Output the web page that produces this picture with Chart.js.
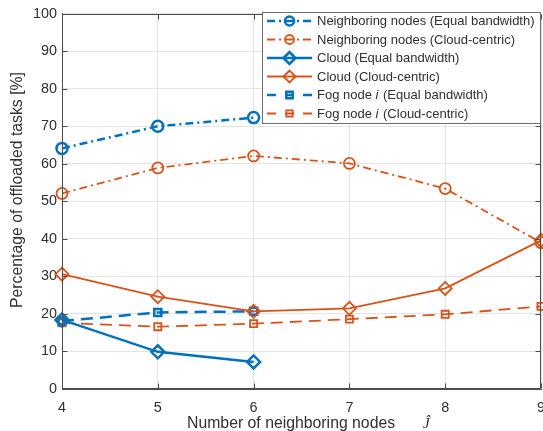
<!DOCTYPE html>
<html>
<head>
<meta charset="utf-8">
<script src="https://cdn.jsdelivr.net/npm/chart.js@4.4.1/dist/chart.umd.min.js"></script>
<style>
  html, body { margin: 0; padding: 0; background: #fff; overflow: hidden; width: 543px; height: 431px; }
  #wrap { position: relative; width: 560px; height: 431px; }
</style>
</head>
<body>
<div id="wrap"><canvas id="c" width="560" height="431"></canvas></div>
<script>
// Number of neighboring nodes (x) and offloading shares in percent
const nodeCounts = [4, 5, 6, 7, 8, 9];
const neighborEqual = [64.1, 70.0, 72.3, null, null, null];
const neighborCloud = [52.1, 58.9, 62.1, 60.1, 53.4, 39.0];
const cloudEqual    = [18.4, 9.9, 7.2, null, null, null];
const cloudCloud    = [30.6, 24.6, 20.7, 21.5, 26.8, 39.6];
const fogEqual      = [18.1, 20.4, 20.7, null, null, null];
const fogCloud      = [17.6, 16.6, 17.4, 18.6, 19.9, 22.0];

const yTickValues = [0, 10, 20, 30, 40, 50, 60, 70, 80, 90, 100];
const seriesNames = [
  'Neighboring nodes (Equal bandwidth)',
  'Neighboring nodes (Cloud-centric)',
  'Cloud (Equal bandwidth)',
  'Cloud (Cloud-centric)',
  'Fog node i (Equal bandwidth)',
  'Fog node i (Cloud-centric)'
];

const BLUE = '#0072BD';
const ORANGE = '#D95319';
const AXIS = '#4d4d4d';
const TEXT = '#303030';
const FONT = '"Liberation Sans", Arial, sans-serif';
const DASHDOT = [8, 4, 2, 4];
const DASHED = [12, 7];

function pts(values) {
  return nodeCounts.map((x, i) => ({ x, y: values[i] })).filter(p => p.y !== null);
}

function series(label, values, color, width, dash, marker, radius) {
  return {
    label,
    data: pts(values),
    borderColor: color,
    borderWidth: width,
    borderDash: dash,
    pointStyle: marker,
    pointRadius: radius,
    pointHoverRadius: radius,
    pointBorderColor: color,
    pointBackgroundColor: 'rgba(0,0,0,0)',
    pointBorderWidth: width,
    tension: 0,
    fill: false,
    clip: false
  };
}

const datasets = [
  series(seriesNames[0], neighborEqual, BLUE, 2.5, DASHDOT, 'circle', 5.5),
  series(seriesNames[1], neighborCloud, ORANGE, 1.8, DASHDOT, 'circle', 5.5),
  series(seriesNames[2], cloudEqual, BLUE, 2.5, [], 'rectRot', 6.5),
  series(seriesNames[3], cloudCloud, ORANGE, 1.8, [], 'rectRot', 6.5),
  series(seriesNames[4], fogEqual, BLUE, 2.5, DASHED, 'rect', 5),
  series(seriesNames[5], fogCloud, ORANGE, 1.8, DASHED, 'rect', 5)
];

// Draws label text, setting the standalone index "i" in italics
function drawLabel(ctx, text, x, y, size) {
  const parts = text.split(/(\bi\b)/);
  for (const part of parts) {
    if (!part) continue;
    const italic = part === 'i';
    ctx.font = (italic ? 'italic ' : '') + size + 'px ' + FONT;
    ctx.fillText(part, x, y);
    x += ctx.measureText(part).width + (italic ? 1 : 0);
  }
}

const framePlugin = {
  id: 'frame',
  afterDraw(chart) {
    const { ctx, chartArea: a, scales: { x, y } } = chart;
    const L = Math.round(a.left) + 0.5, R = Math.round(a.right) - 0.5;
    const T = Math.round(a.top) + 0.5, B = Math.round(a.bottom) - 0.5;
    ctx.save();

    // box and inward tick marks
    ctx.strokeStyle = AXIS;
    ctx.lineWidth = 1;
    ctx.setLineDash([]);
    ctx.beginPath();
    ctx.moveTo(L, T); ctx.lineTo(R, T); ctx.lineTo(R, B); ctx.lineTo(L, B); ctx.closePath();
    const tk = 5;
    nodeCounts.forEach(v => {
      const px = Math.round(x.getPixelForValue(v)) + 0.5;
      ctx.moveTo(px, B); ctx.lineTo(px, B - tk);
      ctx.moveTo(px, T); ctx.lineTo(px, T + tk);
    });
    yTickValues.forEach(v => {
      const py = Math.round(y.getPixelForValue(v)) + 0.5;
      ctx.moveTo(L, py); ctx.lineTo(L + tk, py);
      ctx.moveTo(R, py); ctx.lineTo(R - tk, py);
    });
    ctx.stroke();

    // legend
    const bx = 262.5, by = 12.5, bw = 278, bh = 111;
    ctx.fillStyle = '#fff';
    ctx.fillRect(bx, by, bw, bh);
    ctx.strokeStyle = '#6e6e6e';
    ctx.strokeRect(bx, by, bw, bh);
    chart.data.datasets.forEach((ds, i) => {
      const ry = 21 + i * 18.5;
      const x0 = 267, x1 = 312, xm = 289.5;
      ctx.strokeStyle = ds.borderColor;
      ctx.lineWidth = ds.borderWidth;
      let dash = ds.borderDash;
      if (dash === DASHED) dash = [9, 9];
      ctx.setLineDash(dash);
      ctx.beginPath();
      ctx.moveTo(x0, ry); ctx.lineTo(x1, ry);
      ctx.stroke();
      ctx.setLineDash([]);
      const r = ds.pointStyle === 'rect' ? 4.5 : ds.pointStyle === 'circle' ? 4.5 : 6;
      ctx.fillStyle = 'rgba(0,0,0,0)';
      Chart.helpers.drawPoint(ctx, {
        pointStyle: ds.pointStyle, radius: r, borderWidth: ds.borderWidth, rotation: 0
      }, xm, ry);
      ctx.fillStyle = TEXT;
      ctx.textAlign = 'left';
      ctx.textBaseline = 'middle';
      drawLabel(ctx, ds.label, 317, ry + 0.5, 13);
    });

    // axis titles
    ctx.fillStyle = TEXT;
    ctx.textBaseline = 'alphabetic';
    ctx.textAlign = 'left';
    ctx.font = '15.8px ' + FONT;
    const xt = 'Number of neighboring nodes';
    const tx = 187;
    ctx.fillText(xt, tx, 428);
    ctx.font = 'italic 15px "Liberation Serif", "DejaVu Serif", serif';
    ctx.fillText('\u0134', tx + 236, 428);

    ctx.save();
    ctx.translate(18, 190);
    ctx.rotate(-Math.PI / 2);
    ctx.textAlign = 'center';
    ctx.textBaseline = 'middle';
    ctx.font = '15.8px ' + FONT;
    ctx.fillText('Percentage of offloaded tasks [%]', 0, 0);
    ctx.restore();

    ctx.restore();
  }
};

new Chart(document.getElementById('c'), {
  type: 'line',
  data: { datasets },
  options: {
    responsive: false,
    animation: false,
    events: [],
    layout: { padding: { top: 12, right: 19, left: 0, bottom: 0 } },
    plugins: { legend: { display: false }, tooltip: { enabled: false } },
    scales: {
      x: {
        type: 'linear',
        min: 4, max: 9,
        afterBuildTicks: s => { s.ticks = nodeCounts.map(v => ({ value: v })); },
        afterFit: s => { s.height = 42; },
        grid: { color: '#e4e4e4', lineWidth: 1, drawTicks: false },
        border: { display: true, color: AXIS, width: 1 },
        ticks: { color: TEXT, font: { family: FONT, size: 14.4 }, padding: 10, maxRotation: 0 }
      },
      y: {
        type: 'linear',
        min: 0, max: 100,
        afterBuildTicks: s => { s.ticks = yTickValues.map(v => ({ value: v })); },
        afterFit: s => { s.width = 62; },
        grid: { color: '#e4e4e4', lineWidth: 1, drawTicks: false },
        border: { display: true, color: AXIS, width: 1 },
        ticks: { color: TEXT, font: { family: FONT, size: 14.4 }, padding: 5 }
      }
    }
  },
  plugins: [framePlugin]
});
</script>
</body>
</html>
